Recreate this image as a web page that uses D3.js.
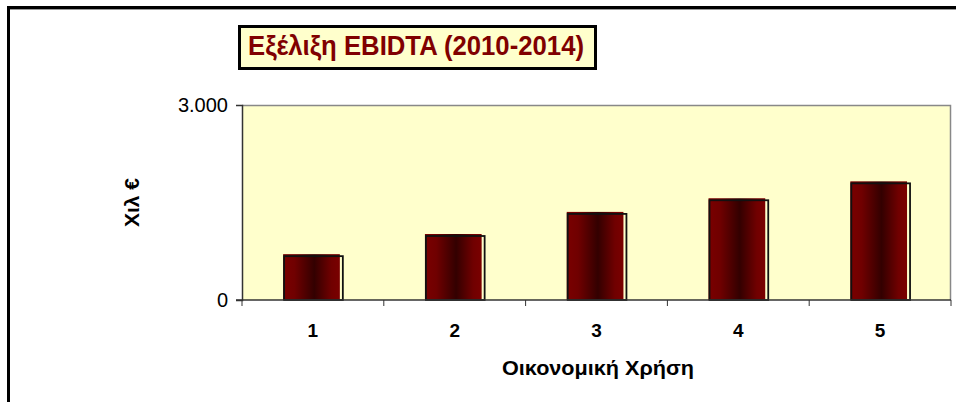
<!DOCTYPE html>
<html>
<head>
<meta charset="utf-8">
<script src="https://cdn.jsdelivr.net/npm/d3@7"></script>
<style>
  body { margin: 0; background: #fff; }
  svg { display: block; font-family: "Liberation Sans", Arial, sans-serif; }
</style>
</head>
<body>
<script>
// chart data
const years = ["1", "2", "3", "4", "5"];
const ebitda = [690, 1000, 1340, 1550, 1810];
const yTicks = [0, 3000];
const title = "Εξέλιξη EBIDTA (2010-2014)";
const xTitle = "Οικονομική Χρήση";
const yTitle = "Χιλ €";

const width = 956, height = 402;
const margin = {top: 105, right: 5, bottom: 102, left: 242};

const svg = d3.select("body").append("svg")
    .attr("width", width)
    .attr("height", height);

// gradient for the bars
const grad = svg.append("defs").append("linearGradient")
    .attr("id", "barGrad")
    .attr("x1", "0%").attr("x2", "100%").attr("y1", "0%").attr("y2", "0%");
grad.append("stop").attr("offset", "0%").attr("stop-color", "#7a0000");
grad.append("stop").attr("offset", "20%").attr("stop-color", "#700000");
grad.append("stop").attr("offset", "55%").attr("stop-color", "#330000");
grad.append("stop").attr("offset", "85%").attr("stop-color", "#700000");
grad.append("stop").attr("offset", "100%").attr("stop-color", "#7a0000");

// outer frame (cut off on right/bottom)
svg.append("rect")
    .attr("x", 8.5).attr("y", 7.5)
    .attr("width", 1000).attr("height", 500)
    .attr("fill", "none")
    .attr("stroke", "#000")
    .attr("stroke-width", 3);
svg.append("line")
    .attr("x1", 10).attr("x2", width).attr("y1", 9.5).attr("y2", 9.5)
    .attr("stroke", "#999").attr("stroke-width", 1);

const x = d3.scaleBand()
    .domain(years)
    .range([margin.left, width - margin.right])
    .paddingInner(0).paddingOuter(0);

const y = d3.scaleLinear()
    .domain([0, 3000])
    .range([height - margin.bottom, margin.top]);

// plot area
svg.append("rect")
    .attr("x", margin.left).attr("y", margin.top)
    .attr("width", x.range()[1] - margin.left)
    .attr("height", y(0) - margin.top)
    .attr("fill", "#ffffcc");
svg.append("path")
    .attr("d", `M${margin.left},${margin.top + 0.5}H${x.range()[1] - 0.5}V${y(0)}`)
    .attr("fill", "none")
    .attr("stroke", "#888")
    .attr("stroke-width", 1.5);

// bars
const bw = x.bandwidth() * 0.4;
const bar = svg.append("g")
  .selectAll("g")
  .data(years)
  .join("g");

bar.append("rect")
    .attr("x", d => x(d) + x.bandwidth() * 0.29)
    .attr("y", (d, i) => y(ebitda[i]) - 1)
    .attr("width", bw)
    .attr("height", (d, i) => y(0) - y(ebitda[i]) + 1)
    .attr("fill", "url(#barGrad)");

bar.append("rect")
    .attr("x", d => x(d) + x.bandwidth() * 0.29 + 1)
    .attr("y", (d, i) => y(ebitda[i]) + 1)
    .attr("width", bw + 2)
    .attr("height", (d, i) => y(0) - y(ebitda[i]) - 1)
    .attr("fill", "none")
    .attr("stroke", "#111")
    .attr("stroke-width", 1.8);

// y axis
svg.append("g")
    .attr("transform", `translate(${margin.left},0)`)
    .call(d3.axisLeft(y).tickValues(yTicks).tickSize(6).tickPadding(8)
      .tickFormat(d => d3.format(",")(d).replace(/,/g, ".")))
    .call(g => g.select(".domain").attr("stroke", "#333").attr("stroke-width", 1.5))
    .call(g => g.selectAll(".tick line").attr("stroke", "#333"))
    .call(g => g.selectAll(".tick text")
        .attr("font-size", 20)
        .attr("font-family", "Liberation Sans, Arial, sans-serif")
        .attr("fill", "#000"));

// x axis
const xTickPos = years.map(d => x(d)).concat([x.range()[1]]);
const xa = svg.append("g").attr("transform", `translate(0,${y(0)})`);
xa.append("line")
    .attr("x1", margin.left - 6).attr("x2", x.range()[1])
    .attr("stroke", "#333").attr("stroke-width", 1.5);
xa.selectAll(".tk")
  .data(xTickPos)
  .join("line")
    .attr("class", "tk")
    .attr("x1", d => d).attr("x2", d => d)
    .attr("y1", 0).attr("y2", 6)
    .attr("stroke", "#333");
xa.selectAll(".lbl")
  .data(years)
  .join("text")
    .attr("class", "lbl")
    .attr("x", d => x(d) + x.bandwidth() / 2)
    .attr("y", 37)
    .attr("text-anchor", "middle")
    .attr("font-size", 19)
    .attr("font-weight", "bold")
    .text(d => d);

// axis titles
svg.append("text")
    .attr("x", 598)
    .attr("y", 375)
    .attr("text-anchor", "middle")
    .attr("font-size", 20)
    .attr("font-weight", "bold")
    .attr("textLength", 192)
    .attr("lengthAdjust", "spacingAndGlyphs")
    .text(xTitle);

svg.append("text")
    .attr("transform", `translate(139,${(margin.top + y(0)) / 2}) rotate(-90)`)
    .attr("text-anchor", "middle")
    .attr("font-size", 21)
    .attr("font-weight", "bold")
    .text(yTitle);

// title box
svg.append("rect")
    .attr("x", 239.5).attr("y", 26.5)
    .attr("width", 356).attr("height", 42)
    .attr("fill", "#ffffcc")
    .attr("stroke", "#000")
    .attr("stroke-width", 3);
svg.append("text")
    .attr("x", 416)
    .attr("y", 55)
    .attr("text-anchor", "middle")
    .attr("font-size", 28)
    .attr("font-weight", "bold")
    .attr("fill", "#800000")
    .attr("textLength", 336)
    .attr("lengthAdjust", "spacingAndGlyphs")
    .text(title);
</script>
</body>
</html>
